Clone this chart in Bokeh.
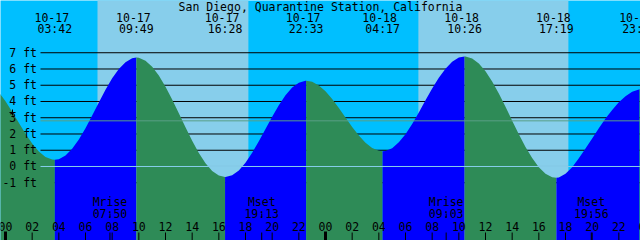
from bokeh.plotting import figure
from bokeh.models import Range1d
from bokeh.core.properties import value
from bokeh.embed import file_html
from bokeh.resources import INLINE

# ---------------- data ----------------
title_text = "San Diego, Quarantine Station, California"
day_names = ["10-17", "10-18"]

# tide extremes (day index, clock time, height in ft)
tide_days = [0, 0, 0, 0, 1, 1, 1, 1]
tide_clock = ["03:42", "09:49", "16:28", "22:33", "04:17", "10:26", "17:19", "23:33"]
tide_ft = [0.41, 6.70, -0.65, 5.28, 0.94, 6.77, -0.70, 4.75]

# tide height every half hour (hours from 10-17 00:00)
curve_hours = [i / 2 for i in range(-2, 97)]
curve_ft = [5.01, 4.58,
            4.02, 3.37, 2.69, 2.02, 1.42, 0.93, 0.59, 0.43, 0.45, 0.67,
            1.09, 1.66, 2.36, 3.14, 3.94, 4.72, 5.43, 6.00, 6.42, 6.66,
            6.69, 6.51, 6.14, 5.60, 4.91, 4.12, 3.27, 2.41, 1.58, 0.83,
            0.20, -0.27, -0.56, -0.65, -0.54, -0.24, 0.23, 0.84, 1.55, 2.30,
            3.06, 3.77, 4.38, 4.86, 5.16, 5.28, 5.21, 4.99, 4.63, 4.16,
            3.60, 3.01, 2.43, 1.90, 1.46, 1.14, 0.97, 0.96, 1.13, 1.49,
            1.99, 2.62, 3.33, 4.07, 4.80, 5.46, 6.02, 6.45, 6.70, 6.77,
            6.65, 6.34, 5.86, 5.23, 4.49, 3.67, 2.82, 1.98, 1.20, 0.52,
            -0.05, -0.44, -0.66, -0.68, -0.45, -0.05, 0.50, 1.10, 1.72, 2.35,
            2.95, 3.48, 3.95, 4.33, 4.60, 4.74, 4.72]

# sunrise / sunset
sun_days = [0, 0, 1, 1]
sun_clock = ["06:54", "18:13", "06:58", "18:13"]

# moon rise / set
moon_names = ["Mrise", "Mset", "Mrise", "Mset"]
moon_days = [0, 0, 1, 1]
moon_clock = ["07:50", "19:13", "09:03", "19:56"]

hour_ticks = [0, 2, 4, 6, 8, 10, 12, 14, 16, 18, 20, 22,
              24, 26, 28, 30, 32, 34, 36, 38, 40, 42, 44, 46, 48]
hour_labels = ["00", "02", "04", "06", "08", "10", "12", "14", "16", "18", "20", "22",
               "00", "02", "04", "06", "08", "10", "12", "14", "16", "18", "20", "22", "00"]
ft_levels = [-1, 0, 1, 2, 3, 4, 5, 6, 7]
ft_labels = ["-1 ft", "0 ft", "1 ft", "2 ft", "3 ft", "4 ft", "5 ft", "6 ft", "7 ft"]
datum_ft = 0.0
msl_ft = 2.81

# ---------------- styles ----------------
NIGHT = "#00BFFF"
DAY = "#87CEEB"
RISE = "#0000FF"
FALL = "#2E8B57"
DATUM = "#87CEEB"
MSL = "#5a9e86"
FONT = "DejaVu Sans Mono"
FS = "11.5px"


def hrs(day, clock):
    h, m = clock.split(":")
    return day * 24 + int(h) + int(m) / 60.0


tide_hours = [hrs(d, c) for d, c in zip(tide_days, tide_clock)]
sun_hours = [hrs(d, c) for d, c in zip(sun_days, sun_clock)]
moon_hours = [hrs(d, c) for d, c in zip(moon_days, moon_clock)]

p = figure(width=640, height=240,
           x_range=Range1d(-0.375, 47.625), y_range=Range1d(-4.554, 10.215),
           output_backend="svg", toolbar_location=None, min_border=0,
           x_axis_type=None, y_axis_type=None,
           background_fill_color=NIGHT, border_fill_color=NIGHT,
           outline_line_color=None)
p.extra_x_ranges = {"px": Range1d(0, 640)}
p.extra_y_ranges = {"px": Range1d(240, 0)}
p.grid.visible = False

# daylight bands
p.quad(left=sun_hours[0::2], right=sun_hours[1::2], bottom=-20, top=20,
       fill_color=DAY, line_color=None, level="image")

# height grid lines (behind the water)
p.segment(x0=40, x1=640, y0=ft_levels, y1=ft_levels, x_range_name="px",
          line_color="black", line_width=1, level="underlay")

# tide fill, split at each extreme
pts = sorted(list(zip(curve_hours, curve_ft)) + list(zip(tide_hours, tide_ft)))
breaks = [curve_hours[0]] + tide_hours + [curve_hours[-1]]
for a, b in zip(breaks[:-1], breaks[1:]):
    seg = [(t, h) for t, h in pts if a <= t <= b]
    xs = [t for t, _ in seg]
    ys = [h for _, h in seg]
    color = RISE if ys[-1] > ys[0] else FALL
    p.varea(x=xs, y1=-20, y2=ys, fill_color=color, fill_alpha=1.0)

# datum and mean sea level lines
p.segment(x0=40, x1=640, y0=datum_ft, y1=datum_ft, x_range_name="px",
          line_color=DATUM, line_width=1)
p.segment(x0=40, x1=640, y0=msl_ft, y1=msl_ft, x_range_name="px",
          line_color=MSL, line_width=1)

txt = dict(text_font=value(FONT), text_font_size=FS, text_color="black",
           text_align="center", text_baseline="middle")

# height labels
p.text(x=36.5, y=ft_levels, text=ft_labels, x_range_name="px",
       **{**txt, "text_align": "right"})
p.scatter(x=[12], y=[112], marker="cross", size=6, line_color="black",
          x_range_name="px", y_range_name="px")

# title
p.text(x=320, y=6, text=[title_text], x_range_name="px", y_range_name="px", **txt)

# tide event labels
p.text(x=tide_hours, y=17.2, text=[day_names[d] for d in tide_days],
       x_offset=-3, y_range_name="px", **txt)
p.text(x=tide_hours, y=28.7, text=tide_clock, y_range_name="px", **txt)

# moon labels
p.text(x=moon_hours, y=201.8, text=moon_names, y_range_name="px", **txt)
p.text(x=moon_hours, y=213.3, text=moon_clock, y_range_name="px", **txt)
p.segment(x0=moon_hours, x1=moon_hours, y0=213, y1=217, y_range_name="px",
          line_color="black", line_width=1)

# hour ticks and labels
p.segment(x0=hour_ticks, x1=hour_ticks, y0=232, y1=240, y_range_name="px",
          line_color="black", line_width=1)
p.segment(x0=moon_hours, x1=moon_hours, y0=232, y1=240, y_range_name="px",
          line_color="black", line_width=1)
midnights = [h for h in hour_ticks if h % 24 == 0]
p.segment(x0=midnights, x1=midnights, y0=231, y1=240, y_range_name="px",
          line_color="black", line_width=3)
p.text(x=hour_ticks, y=226, text=hour_labels, y_range_name="px", **txt)

open("out.html", "w").write(file_html(p, INLINE))
